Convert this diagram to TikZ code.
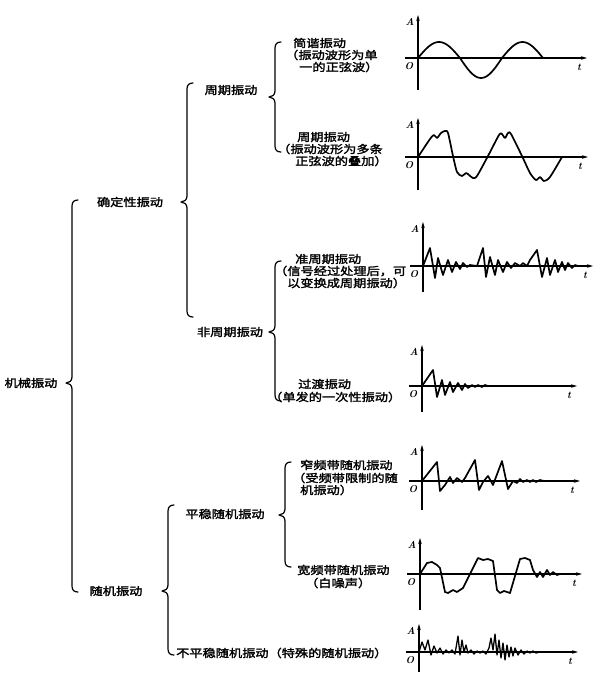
\documentclass[tikz,border=0pt]{standalone}
\usepackage{fontspec}
\newfontfamily\cjk[FakeStretch=1.2,FakeBold=2]{Noto Sans CJK SC}
\usetikzlibrary{arrows.meta}
\tikzset{
  txt/.style={font=\cjk\fontsize{11}{12}\selectfont, inner sep=0pt},
  lt/.style={txt, anchor=west},
  bracestyle/.style={line width=1.2pt, line cap=round, line join=round},
  axisline/.style={line width=1.1pt, -{Stealth[length=6pt,width=3.5pt]}},
  wave/.style={line width=1.7pt, line join=round, line cap=round},
  axlbl/.style={font=\fontsize{10}{10}\selectfont\bfseries\itshape, inner sep=0pt},
}
% brace: x, top, tip, bottom (y downward)
\newcommand\mybrace[4]{%
  \draw[bracestyle] (#1+6,#2) .. controls (#1+2,#2) and (#1,#2+2) .. (#1,#2+6)
    -- (#1,#3-6) .. controls (#1,#3-2) and (#1-3,#3) .. (#1-6,#3)
    .. controls (#1-3,#3) and (#1,#3+2) .. (#1,#3+6)
    -- (#1,#4-6) .. controls (#1,#4-2) and (#1+2,#4) .. (#1+6,#4);}
% axes: name, ox, oy, vtop, vbot, hright
\newcommand\myaxes[6]{%
  \draw[axisline] (#2,#5) -- (#2,#4);
  \draw[axisline] (#2-13,#3) -- (#6,#3);
  \node[axlbl] (#1A) at (#2-8,#4+7) {A};
  \node[axlbl] (#1O) at (#2-9,#3+8) {O};
  \node[axlbl] (#1t) at (#6-8,#3+9) {t};}
\begin{document}
\begin{tikzpicture}[x=1pt,y=-1pt]
\useasboundingbox (0,0) rectangle (600,678);
\fill[white] (0,0) rectangle (600,678);

% ---------- hierarchy labels ----------
\node[txt] (mech) at (31,383) {机械振动};
\node[txt] (det) at (130,202) {确定性振动};
\node[txt] (rand) at (116,591) {随机振动};
\node[txt] (per) at (231,90) {周期振动};
\node[txt] (aper) at (230,332) {非周期振动};
\node[txt] (stat) at (225,514) {平稳随机振动};

% ---------- braces ----------
\mybrace{72}{200}{383}{592}
\mybrace{187}{83}{202}{317}
\mybrace{275}{42}{97}{152}
\mybrace{275}{261}{332}{401}
\mybrace{168}{505}{591}{655}
\mybrace{285}{462}{515}{567}

% ---------- leaf texts ----------
\node[lt] (s1) at (293,43) {简谐振动};
\node[lt] (s2) at (285,55) {（振动波形为单};
\node[lt] (s3) at (299,67) {一的正弦波）};

\node[lt] (p1) at (297,137) {周期振动};
\node[lt] (p2) at (277,149) {（振动波形为多条};
\node[lt] (p3) at (295,161) {正弦波的叠加）};

\node[lt] (q1) at (295,259) {准周期振动};
\node[lt] (q2) at (274,271) {（信号经过处理后，可};
\node[lt] (q3) at (287,283) {以变换成周期振动）};

\node[lt] (tr1) at (298,384) {过渡振动};
\node[lt] (tr2) at (269,397) {（单发的一次性振动）};

\node[lt] (nb1) at (300,465) {窄频带随机振动};
\node[lt] (nb2) at (292,478) {（受频带限制的随};
\node[lt] (nb3) at (300,490) {机振动）};

\node[lt] (wb1) at (297,570) {宽频带随机振动};
\node[lt] (wb2) at (305,583) {（白噪声）};

\node[lt] (ns) at (176,653) {不平稳随机振动（特殊的随机振动）};

% ---------- plots ----------
% P1 simple harmonic
\myaxes{a}{418}{58}{15}{90}{587}
\draw[wave] plot[domain=0:180,samples=25] ({418+\x/180*42},{58-16*sin(\x)})
  -- plot[domain=0:180,samples=25] ({460+\x/180*42},{58+20*sin(\x)})
  -- plot[domain=0:180,samples=25] ({502+\x/180*41},{58-16*sin(\x)});

% P2 periodic (sum of sines)
\myaxes{b}{418}{157}{118}{190}{588}
\draw[wave] plot[smooth,tension=0.45] coordinates {(418,157)(430,139)(434,135)(437,138)(441,133)(445,131)(448,133)(453,156)(457,172)(462,176)(466,173)(469,175)(473,178)(477,176)(488,156)(499,135)(502,134)(505,138)(508,133)(511,134)(522,156)(530,173)(536,180)(540,177)(544,181)(550,177)(562,157)};

% P3 quasi-periodic
\myaxes{c}{423}{266}{222}{292}{593}
\draw[wave] (423,266)--(430,248)--(435,278)--(438,258)--(443,275)--(448,260)--(452,272)--(456,262)--(460,269)--(463,263)--(467,267)--(470,265)--(477,266)
  --(483,248)--(486,277)--(490,257)--(495,275)--(498,260)--(503,272)--(507,262)--(511,268)--(515,263)--(520,266)--(523,263)--(527,266)
  --(530,260)--(537,250)--(542,277)--(547,258)--(550,275)--(555,260)--(558,272)--(562,262)--(565,270)--(568,263)--(572,268)--(575,265)--(578,266);

% P4 transient
\myaxes{d}{422}{386}{345}{412}{577}
\draw[wave] (422,386)--(433,370)--(437,397)--(442,380)--(445,395)--(450,382)--(453,392)--(458,383)--(462,390)--(465,384)--(468,388)--(472,385)--(475,387)--(478,385)--(482,387)--(485,385)--(488,386);

% P5 narrow band random
\myaxes{e}{422}{481}{445}{510}{580}
\draw[wave] (422,481)--(437,462)--(440,491)--(445,485)--(450,477)--(453,483)--(457,478)--(462,482)--(465,478)--(475,460)--(479,490)--(483,482)--(488,476)--(493,485)--(502,461)--(508,489)--(513,481)--(517,483)--(520,479)--(523,482)--(527,480)--(530,482)--(533,480)--(536,482)--(540,480)--(544,481)--(548,481);

% P6 wide band random
\myaxes{f}{420}{574}{538}{610}{582}
\draw[wave] (420,574)--(427,563)--(432,562)--(437,565)--(440,568)--(445,592)--(448,593)--(453,590)--(457,592)--(460,590)--(463,588)--(478,558)--(483,560)--(488,559)--(493,561)--(497,590)--(500,593)--(504,591)--(507,592)--(510,593)--(520,559)--(525,558)--(530,560)--(533,570)--(537,577)--(540,572)--(543,577)--(547,570)--(550,575)--(553,572)--(557,575)--(560,574);

% P7 non-stationary random
\myaxes{g}{419}{652}{624}{672}{578}
\draw[wave,line width=1.3pt] (419,652)--(422,642)--(425,650)--(428,640)--(431,655)--(434,646)--(437,653)--(440,648)--(443,654)--(446,650)--(449,653)--(452,650)--(455,654)--(458,636)--(460,655)--(462,640)--(464,652)--(466,645)--(468,653)--(471,650)--(474,654)--(477,651)--(480,653)--(483,651)--(486,654)--(489,648)--(491,638)--(493,650)--(495,634)--(497,655)--(499,640)--(501,658)--(503,643)--(505,660)--(507,645)--(509,657)--(511,647)--(513,656)--(515,648)--(518,655)--(521,650)--(524,654)--(527,651)--(530,653)--(533,651)--(536,653)--(540,652)--(546,652);

\end{tikzpicture}
\end{document}
